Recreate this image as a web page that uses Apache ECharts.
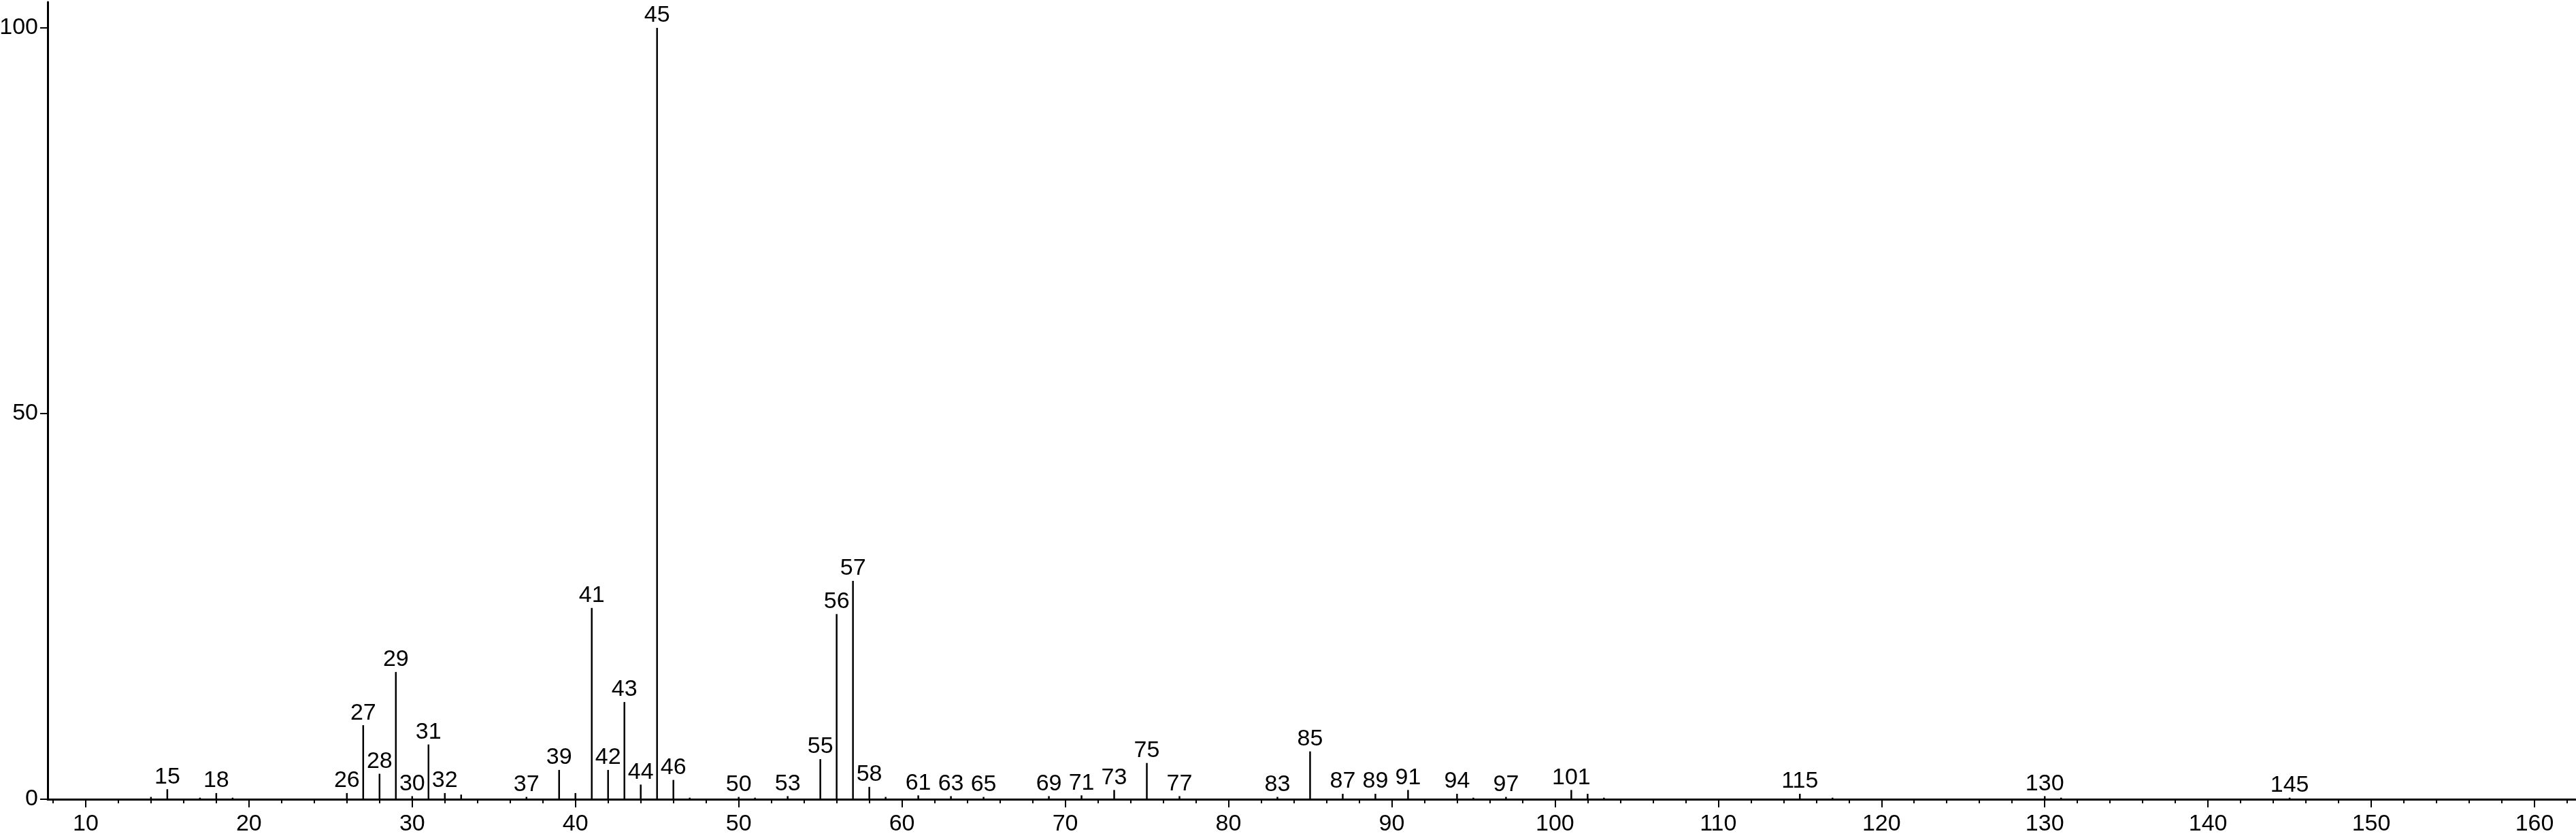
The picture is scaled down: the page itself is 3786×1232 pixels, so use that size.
<!DOCTYPE html>
<html>
<head>
<meta charset="utf-8">
<script src="https://cdn.jsdelivr.net/npm/echarts@6/dist/echarts.min.js"></script>
<style>
html,body{margin:0;padding:0;background:#fff;}
#chart{width:3786px;height:1232px;}
</style>
</head>
<body>
<div id="chart"></div>
<script>
// m/z values of peaks
const mz = [14,15,17,18,19,26,27,28,29,30,31,32,33,37,39,40,41,42,43,44,45,46,47,50,51,53,55,56,57,58,59,61,63,65,69,71,73,75,77,83,85,87,89,91,94,95,97,101,102,103,115,117,130,131,145];
// relative intensities
const intensity = [0.3,1.3,0.2,0.8,0.2,0.8,9.6,3.3,16.5,0.4,7.1,0.8,0.6,0.3,3.8,0.8,24.8,3.8,12.6,1.9,100,2.5,0.2,0.3,0.2,0.4,5.2,24.0,28.3,1.6,0.3,0.5,0.4,0.3,0.4,0.5,1.2,4.7,0.4,0.3,6.2,0.7,0.7,1.2,0.7,0.2,0.3,1.2,0.7,0.2,0.7,0.2,0.4,0.2,0.2];
// peaks carrying a label
const labeled = [15,18,26,27,28,29,30,31,32,37,39,41,42,43,44,45,46,50,53,55,56,57,58,61,63,65,69,71,73,75,77,83,85,87,89,91,94,97,101,115,130,145];
// axis ticks
const xTicks = [10,20,30,40,50,60,70,80,90,100,110,120,130,140,150,160];
const xMinorTicks = [8,12,14,16,18,22,24,26,28,32,34,36,38,42,44,46,48,52,54,56,58,62,64,66,68,72,74,76,78,82,84,86,88,92,94,96,98,102,104,106,108,112,114,116,118,122,124,126,128,132,134,136,138,142,144,146,148,152,154,156,158,162];
const yTicks = [0,50,100];

const FONT = '"Liberation Sans","Arial",sans-serif';
const FS = 34;
const X_MIN = 7.67, X_MAX = 162.5, Y_MAX = 103.35;

const data = mz.map((m, i) => ({
  value: [m, intensity[i]],
  label: { show: labeled.indexOf(m) >= 0 }
}));

const chart = echarts.init(document.getElementById('chart'), null, {renderer: 'canvas'});
chart.setOption({
  animation: false,
  backgroundColor: '#fff',
  grid: { left: 70, right: 1, top: 3, bottom: 57, containLabel: false, outerBoundsMode: 'none' },
  xAxis: [{
    type: 'value', min: X_MIN, max: X_MAX,
    axisLine: { show: true, onZero: false, lineStyle: { color: '#000', width: 3 } },
    axisTick: { show: true, customValues: xTicks, length: 12, lineStyle: { color: '#000', width: 2 } },
    axisLabel: { show: true, customValues: xTicks, margin: 20, color: '#000', fontSize: FS, fontFamily: FONT },
    splitLine: { show: false }
  }, {
    type: 'value', min: X_MIN, max: X_MAX, position: 'bottom',
    axisLine: { show: false },
    axisTick: { show: true, customValues: xMinorTicks, length: 6, lineStyle: { color: '#000', width: 2 } },
    axisLabel: { show: false },
    splitLine: { show: false }
  }],
  yAxis: {
    type: 'value', min: 0, max: Y_MAX,
    axisLine: { show: true, lineStyle: { color: '#000', width: 3 } },
    axisTick: { show: true, customValues: yTicks, length: 11, lineStyle: { color: '#000', width: 2 } },
    axisLabel: { show: true, customValues: yTicks, margin: 14, color: '#000', fontSize: FS, fontFamily: FONT },
    splitLine: { show: false }
  },
  series: [{
    type: 'bar',
    xAxisIndex: 0,
    barWidth: 2.5,
    itemStyle: { color: '#000' },
    label: {
      position: 'top', distance: 1, color: '#000', fontSize: FS, fontFamily: FONT,
      formatter: p => String(p.value[0])
    },
    data: data
  }]
});
</script>
</body>
</html>
